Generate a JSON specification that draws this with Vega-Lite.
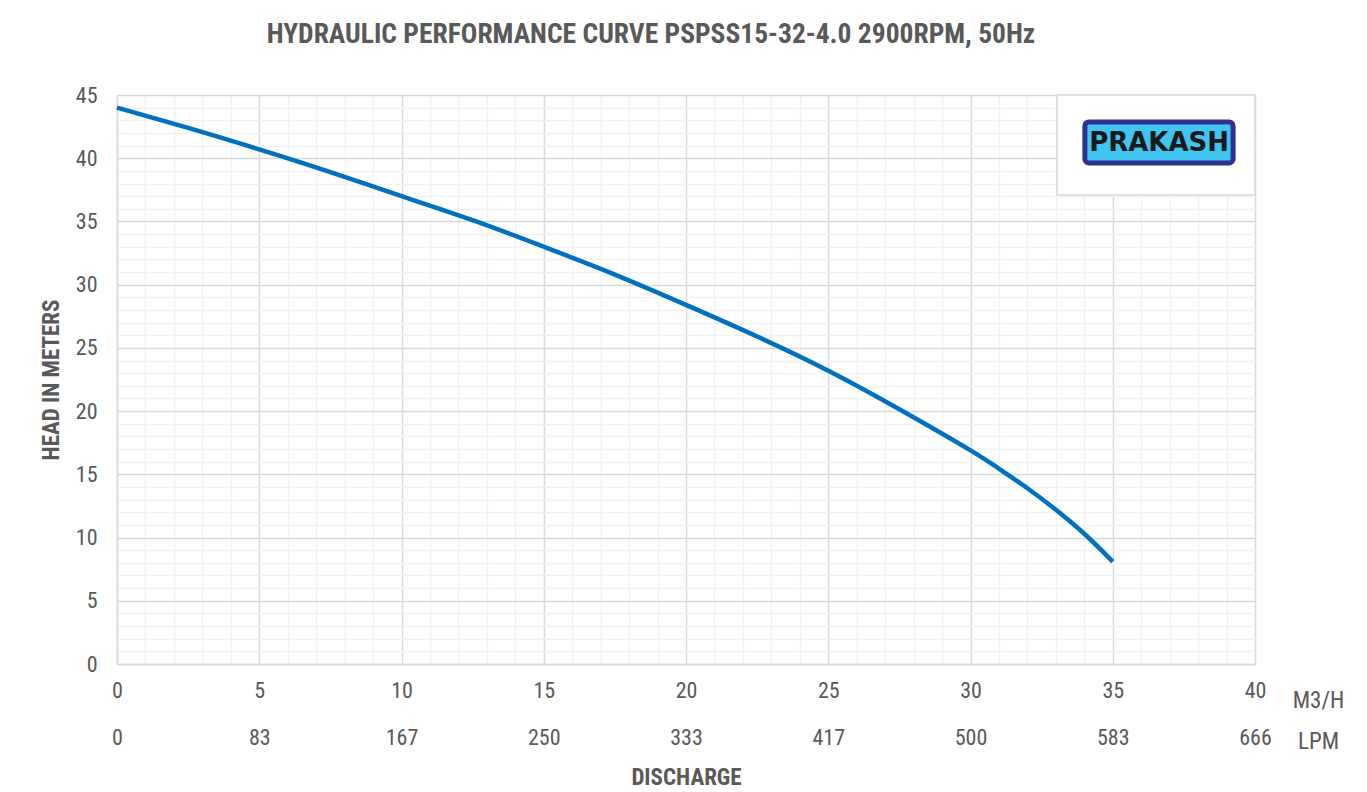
{
  "$schema": "https://vega.github.io/schema/vega-lite/v6.json",
  "width": 1138,
  "height": 569,
  "autosize": {"type": "none"},
  "padding": {"left": 117, "top": 95, "right": 112, "bottom": 128},
  "background": "white",
  "config": {"view": {"stroke": null}},
  "title": {
    "text": "HYDRAULIC PERFORMANCE CURVE PSPSS15-32-4.0 2900RPM, 50Hz",
    "font": "Roboto Condensed, Liberation Sans Narrow, DejaVu Sans Condensed, Roboto",
    "fontSize": 27.5,
    "fontWeight": "bold",
    "color": "#595959",
    "anchor": "middle",
    "frame": "group",
    "dx": -35,
    "offset": 36
  },
  "datasets": {
    "curve": [
      {"Q": 0, "H": 44.0},
      {"Q": 2.5, "H": 42.4},
      {"Q": 5, "H": 40.7},
      {"Q": 7.5, "H": 38.9},
      {"Q": 10, "H": 37.0},
      {"Q": 12.5, "H": 35.1},
      {"Q": 15, "H": 33.0},
      {"Q": 17.5, "H": 30.8},
      {"Q": 20, "H": 28.4},
      {"Q": 22.5, "H": 25.9},
      {"Q": 25, "H": 23.2},
      {"Q": 27.5, "H": 20.15},
      {"Q": 30, "H": 16.9},
      {"Q": 31, "H": 15.45},
      {"Q": 32, "H": 13.9},
      {"Q": 33, "H": 12.2},
      {"Q": 34, "H": 10.3},
      {"Q": 35, "H": 8.1}
    ],
    "logobox": [{"x1": 33.04, "x2": 40, "y1": 37.09, "y2": 45}],
    "badge": [{"x1": 34.02, "x2": 39.23, "y1": 39.62, "y2": 42.87, "xc": 36.63, "yc": 41.2, "label": "PRAKASH"}]
  },
  "resolve": {"axis": {"x": "independent", "y": "independent"}},
  "layer": [
    {
      "data": {"name": "curve"},
      "mark": {"type": "line", "color": "#0070c0", "strokeWidth": 4.5, "interpolate": "natural"},
      "encoding": {
        "x": {
          "field": "Q", "type": "quantitative",
          "scale": {"domain": [0, 40], "nice": false, "zero": false},
          "axis": {
            "orient": "bottom",
            "values": [0,1,2,3,4,5,6,7,8,9,10,11,12,13,14,15,16,17,18,19,20,21,22,23,24,25,26,27,28,29,30,31,32,33,34,35,36,37,38,39,40],
            "labelExpr": "datum.value % 5 === 0 ? datum.label : ''",
            "grid": true,
            "gridColor": {"condition": {"test": "datum.value % 5 === 0", "value": "#d9d9d9"}, "value": "#f2f2f2"},
            "gridWidth": 1.5,
            "ticks": false,
            "domainColor": "#d9d9d9",
            "domainWidth": 1.5,
            "labelFont": "Roboto Condensed, Liberation Sans Narrow, DejaVu Sans Condensed, Roboto",
            "labelFontSize": 22,
            "labelColor": "#595959",
            "labelPadding": 16,
            "labelFlush": false,
            "labelOverlap": false,
            "title": "M3/H",
            "titleFont": "Roboto Condensed, Liberation Sans Narrow, DejaVu Sans Condensed, Roboto",
            "titleFontSize": 23,
            "titleFontWeight": "normal",
            "titleColor": "#595959",
            "titleAngle": 0,
            "titleAlign": "center",
            "titleBaseline": "alphabetic",
            "titleX": 1201,
            "titleY": 43
          }
        },
        "y": {
          "field": "H", "type": "quantitative",
          "scale": {"domain": [0, 45], "nice": false},
          "axis": {
            "orient": "left",
            "values": [0,1,2,3,4,5,6,7,8,9,10,11,12,13,14,15,16,17,18,19,20,21,22,23,24,25,26,27,28,29,30,31,32,33,34,35,36,37,38,39,40,41,42,43,44,45],
            "labelExpr": "datum.value % 5 === 0 ? datum.label : ''",
            "grid": true,
            "gridColor": {"condition": {"test": "datum.value % 5 === 0", "value": "#d9d9d9"}, "value": "#f2f2f2"},
            "gridWidth": 1.5,
            "ticks": false,
            "domainColor": "#d9d9d9",
            "domainWidth": 1.5,
            "labelFont": "Roboto Condensed, Liberation Sans Narrow, DejaVu Sans Condensed, Roboto",
            "labelFontSize": 22,
            "labelColor": "#595959",
            "labelPadding": 20,
            "labelFlush": false,
            "labelOverlap": false,
            "title": "HEAD IN METERS",
            "titleFont": "Roboto Condensed, Liberation Sans Narrow, DejaVu Sans Condensed, Roboto",
            "titleFontSize": 23,
            "titleFontWeight": "bold",
            "titleColor": "#595959",
            "titlePadding": 12
          }
        }
      }
    },
    {
      "data": {"name": "curve"},
      "mark": {"type": "rule", "strokeOpacity": 0},
      "encoding": {
        "x": {
          "field": "Q", "type": "quantitative",
          "scale": {"domain": [0, 40], "nice": false, "zero": false},
          "axis": {
            "orient": "bottom",
            "offset": 47,
            "values": [0,5,10,15,20,25,30,35,40],
            "labelExpr": "datum.value == 0 ? '0' : datum.value == 5 ? '83' : datum.value == 10 ? '167' : datum.value == 15 ? '250' : datum.value == 20 ? '333' : datum.value == 25 ? '417' : datum.value == 30 ? '500' : datum.value == 35 ? '583' : '666'",
            "grid": false,
            "domain": false,
            "ticks": false,
            "labelFont": "Roboto Condensed, Liberation Sans Narrow, DejaVu Sans Condensed, Roboto",
            "labelFontSize": 22,
            "labelColor": "#595959",
            "labelPadding": 16,
            "labelFlush": false,
            "labelOverlap": false,
            "title": "LPM",
            "titleFont": "Roboto Condensed, Liberation Sans Narrow, DejaVu Sans Condensed, Roboto",
            "titleFontSize": 23,
            "titleFontWeight": "normal",
            "titleColor": "#595959",
            "titleAngle": 0,
            "titleAlign": "center",
            "titleBaseline": "alphabetic",
            "titleX": 1201,
            "titleY": 37
          }
        }
      }
    },
    {
      "data": {"name": "curve"},
      "mark": {"type": "rule", "strokeOpacity": 0},
      "encoding": {
        "x": {
          "field": "Q", "type": "quantitative",
          "scale": {"domain": [0, 40], "nice": false, "zero": false},
          "axis": {
            "orient": "bottom",
            "labels": false,
            "grid": false,
            "domain": false,
            "ticks": false,
            "title": "DISCHARGE",
            "titleFont": "Roboto Condensed, Liberation Sans Narrow, DejaVu Sans Condensed, Roboto",
            "titleFontSize": 23,
            "titleFontWeight": "bold",
            "titleColor": "#595959",
            "titleAngle": 0,
            "titleAlign": "center",
            "titleBaseline": "alphabetic",
            "titleX": 569,
            "titleY": 120
          }
        }
      }
    },
    {
      "data": {"name": "logobox"},
      "mark": {"type": "rect", "fill": "white", "stroke": "#d9d9d9", "strokeWidth": 1.5},
      "encoding": {
        "x": {"field": "x1", "type": "quantitative", "axis": null},
        "x2": {"field": "x2"},
        "y": {"field": "y1", "type": "quantitative", "axis": null},
        "y2": {"field": "y2"}
      }
    },
    {
      "data": {"name": "badge"},
      "mark": {"type": "rect", "fill": "#40c4f0", "stroke": "#2e3192", "strokeWidth": 5, "cornerRadius": 4},
      "encoding": {
        "x": {"field": "x1", "type": "quantitative", "axis": null},
        "x2": {"field": "x2"},
        "y": {"field": "y1", "type": "quantitative", "axis": null},
        "y2": {"field": "y2"}
      }
    },
    {
      "data": {"name": "badge"},
      "mark": {"type": "text", "font": "DejaVu Sans", "fontWeight": "bold", "fontSize": 26, "color": "#1a1a1a", "align": "center", "baseline": "middle"},
      "encoding": {
        "x": {"field": "xc", "type": "quantitative", "axis": null},
        "y": {"field": "yc", "type": "quantitative", "axis": null},
        "text": {"field": "label"}
      }
    }
  ]
}
